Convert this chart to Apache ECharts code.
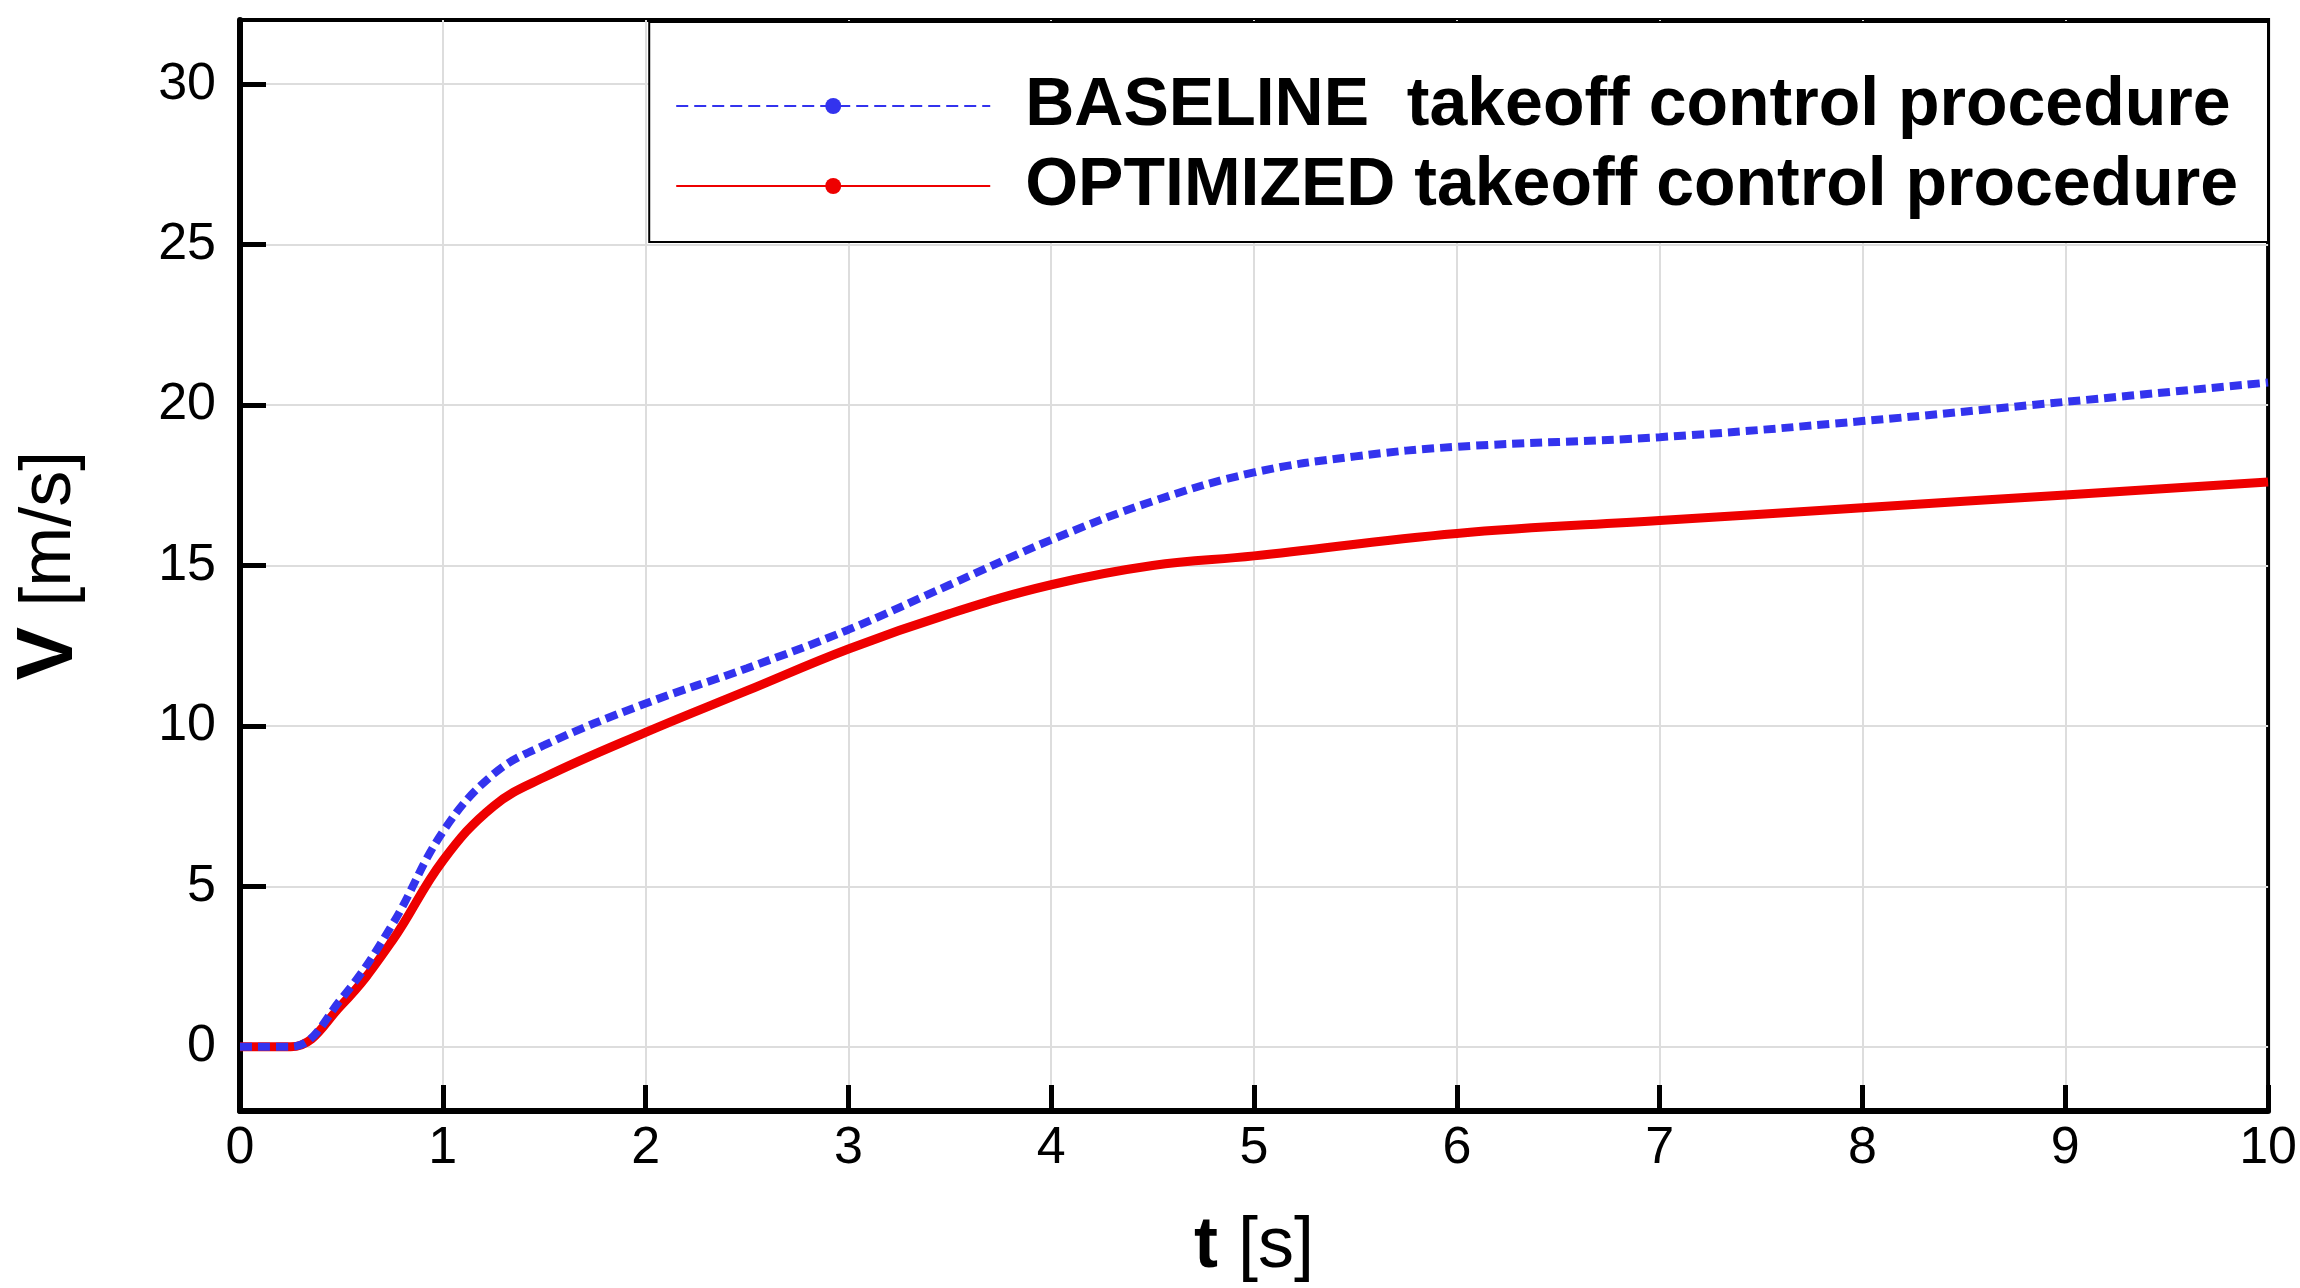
<!DOCTYPE html>
<html><head><meta charset="utf-8">
<script src="https://cdn.jsdelivr.net/npm/echarts@6/dist/echarts.min.js"></script>
<style>html,body{margin:0;padding:0;background:#fff}#c{width:2300px;height:1288px}</style>
</head><body><div id="c"></div>
<script>
const tBase = [0,0.25,0.5,0.75,1.0,1.25,1.5,2,2.5,3,3.5,4,4.5,5,5.5,6,7,8,9,10];
const vBase = [0,0,1.5,3.8,6.7,8.5,9.4,10.7,11.8,13.0,14.4,15.8,17.0,17.9,18.4,18.7,19.0,19.5,20.1,20.7];
const tOpt = [0,0.25,0.5,0.75,1.0,1.25,1.5,2,2.5,3,3.5,4,4.5,5,6,7,8,9,10];
const vOpt = [0,0,1.3,3.3,5.8,7.5,8.4,9.8,11.1,12.4,13.5,14.4,15.0,15.3,16.0,16.4,16.8,17.2,17.6];
const xTicks = [0,1,2,3,4,5,6,7,8,9,10];
const yTicks = [0,5,10,15,20,25,30];
const names = ['BASELINE  takeoff control procedure','OPTIMIZED takeoff control procedure'];

const font = '"Liberation Sans", Arial, sans-serif';
const chart = echarts.init(document.getElementById('c'));
const gridLines = {
  silent: true, symbol: 'none', label: {show: false}, z: 0,
  lineStyle: {color: '#dddddd', width: 2, type: 'solid'},
  data: xTicks.slice(1, -1).map(v => ({xAxis: v})).concat(yTicks.map(v => ({yAxis: v})))
};
chart.setOption({
  animation: false,
  grid: {left: 240, right: 30, top: 20, bottom: 176, show: true, borderColor: '#000', borderWidth: 4, containLabel: false},
  legend: {
    right: 32, top: 22, orient: 'vertical', itemWidth: 314, itemHeight: 20, itemGap: 12, z: 20,
    padding: [50, 30, 22, 26], backgroundColor: '#fff', borderColor: '#000', borderWidth: 2,
    textStyle: {fontFamily: font, fontWeight: 'bold', fontSize: 68, color: '#000', padding: [0, 0, 0, 30]},
    data: names
  },
  xAxis: {
    type: 'value', min: 0, max: 10, interval: 1,
    name: '{b|t} [s]', nameLocation: 'middle', nameGap: 100,
    nameTextStyle: {fontFamily: font, fontSize: 72, color: '#000', rich: {b: {fontFamily: font, fontSize: 72, fontWeight: 'bold'}}},
    axisLine: {onZero: false, lineStyle: {color: '#000', width: 6}},
    axisTick: {inside: true, length: 26, lineStyle: {color: '#000', width: 5}},
    axisLabel: {fontFamily: font, fontSize: 52, color: '#000', margin: 12},
    splitLine: {show: false}
  },
  yAxis: {
    type: 'value', min: -2, max: 32,
    name: '{b|V} [m/s]', nameLocation: 'middle', nameGap: 150, nameRotate: 90,
    nameTextStyle: {fontFamily: font, fontSize: 72, color: '#000', rich: {b: {fontFamily: font, fontSize: 80, fontWeight: 'bold'}}},
    axisLine: {onZero: false, lineStyle: {color: '#000', width: 6}},
    axisTick: {inside: true, length: 26, customValues: yTicks, lineStyle: {color: '#000', width: 5}},
    axisLabel: {fontFamily: font, fontSize: 52, color: '#000', margin: 24, customValues: yTicks},
    splitLine: {show: false}
  },
  series: [
    {name: names[0], type: 'line', smooth: 0.4, symbol: 'none', z: 3,
     data: tBase.map((t, i) => [t, vBase[i]]),
     itemStyle: {color: '#3333ee'},
     lineStyle: {color: '#3333ee', width: 8, type: [12, 6]},
     markLine: gridLines},
    {name: names[1], type: 'line', smooth: 0.4, symbol: 'none', z: 2,
     data: tOpt.map((t, i) => [t, vOpt[i]]),
     itemStyle: {color: '#ee0000'},
     lineStyle: {color: '#ee0000', width: 9}}
  ]
});
</script></body></html>
